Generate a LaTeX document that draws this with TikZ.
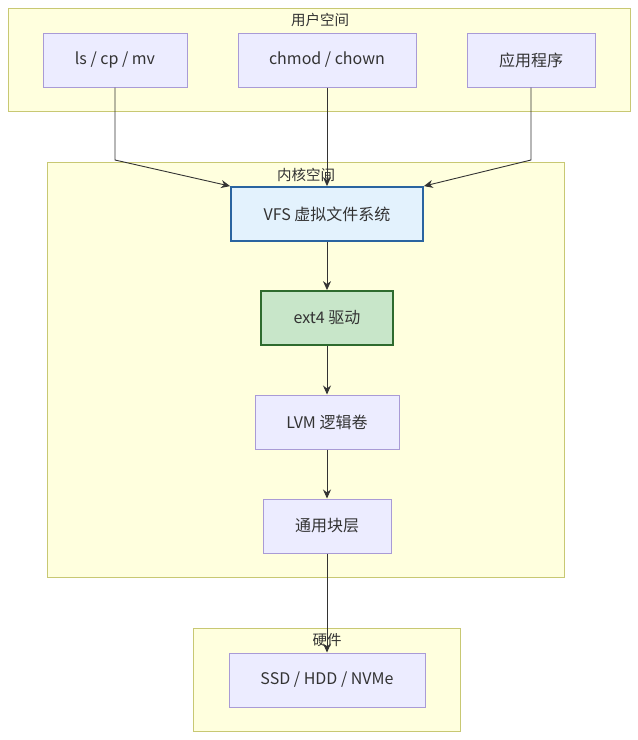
\documentclass[tikz,border=0pt]{standalone}
\usepackage{fontspec}
\setmainfont{Noto Sans CJK SC}
\usetikzlibrary{arrows.meta}
\definecolor{clfill}{HTML}{FFFFDE}
\definecolor{cldraw}{HTML}{C8C873}
\definecolor{ndfill}{HTML}{ECECFF}
\definecolor{nddraw}{HTML}{A99BD6}
\definecolor{vfsfill}{HTML}{E3F2FD}
\definecolor{vfsdraw}{HTML}{2A64A0}
\definecolor{extfill}{HTML}{C8E6C9}
\definecolor{extdraw}{HTML}{2E6B2E}
\definecolor{txt}{HTML}{333333}
\begin{document}
\begin{tikzpicture}[x=1pt,y=-1pt,
  cluster/.style={draw=cldraw,fill=clfill,line width=1pt},
  box/.style={draw=nddraw,fill=ndfill,line width=1pt,text=txt,font=\fontsize{16}{19}\selectfont},
  ttl/.style={text=txt,font=\fontsize{14.5}{17}\selectfont,inner sep=0pt},
  arr/.style={draw=txt,line width=0.9pt,-{Stealth[length=9pt,width=8pt]}}]
\useasboundingbox (0,0) rectangle (638,740);
\fill[white] (0,0) rectangle (638,740);
% clusters
\draw[cluster] (8,8) rectangle (630,111);
\node[ttl] (tuser) at (320,20) {用户空间};
\draw[cluster] (47,162) rectangle (564,577);
\node[ttl] (tkern) at (306,175) {内核空间};
\draw[cluster] (193,628) rectangle (460,731);
\node[ttl] (thw) at (327,640) {硬件};
% nodes
\node[box,minimum width=144pt,minimum height=54pt] (ls) at (115,60) {ls / cp / mv};
\node[box,minimum width=178pt,minimum height=54pt] (ch) at (327,60) {chmod / chown};
\node[box,minimum width=128pt,minimum height=54pt] (app) at (531,60) {应用程序};
\node[box,draw=vfsdraw,fill=vfsfill,line width=1.8pt,minimum width=192pt,minimum height=54pt] (vfs) at (327,214) {VFS 虚拟文件系统};
\node[box,draw=extdraw,fill=extfill,line width=1.8pt,minimum width=132pt,minimum height=54pt] (ext) at (327,318) {ext4 驱动};
\node[box,minimum width=144pt,minimum height=54pt] (lvm) at (327,422) {LVM 逻辑卷};
\node[box,minimum width=128pt,minimum height=54pt] (blk) at (327,526) {通用块层};
\node[box,minimum width=196pt,minimum height=54pt] (ssd) at (327,680) {SSD / HDD / NVMe};
% connectors
\coordinate (b1) at (115,160);
\coordinate (b2) at (531,160);
\draw[arr] (ls.south) -- (b1) -- (vfs.north west);
\draw[arr] (ch.south) -- (vfs.north);
\draw[arr] (app.south) -- (b2) -- (vfs.north east);
\draw[arr] (vfs) -- (ext);
\draw[arr] (ext) -- (lvm);
\draw[arr] (lvm) -- (blk);
\draw[arr] (blk) -- (ssd);
\end{tikzpicture}
\end{document}
